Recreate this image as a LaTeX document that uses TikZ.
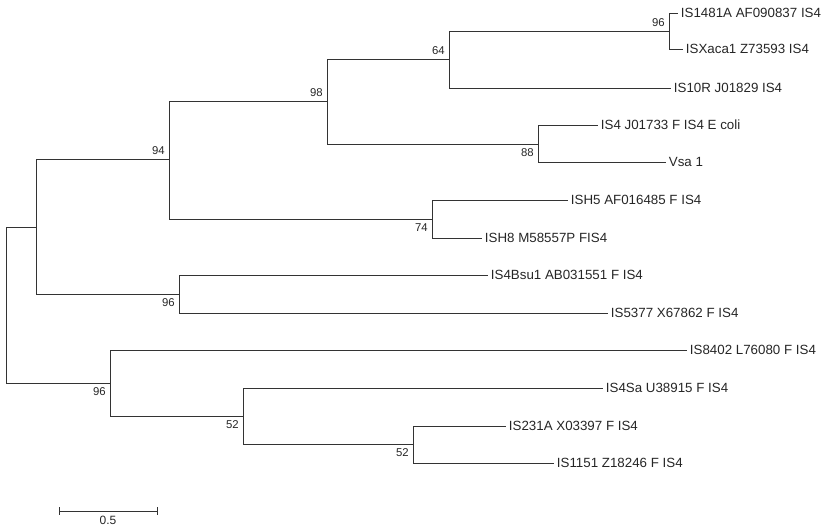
\documentclass[tikz,border=0pt]{standalone}
\usepackage{fontspec}
\setmainfont{Liberation Sans}
\begin{document}
\begin{tikzpicture}[x=0.75pt,y=-0.75pt,
  branch/.style={draw=black!80,line width=0.7pt},
  leaf/.style={anchor=west,inner sep=2pt,text=black!85,font=\fontsize{10}{12}\selectfont},
  bsa/.style={anchor=south east,inner sep=3pt,text=black!85,font=\fontsize{8.5}{10}\selectfont},
  bsb/.style={anchor=north east,inner sep=3pt,text=black!85,font=\fontsize{8.5}{10}\selectfont}]
\useasboundingbox (0,0) rectangle (829,532);
% internal nodes
\coordinate (r) at (6,305);
\coordinate (nA) at (36,227);
\coordinate (nB) at (110,383);
\coordinate (n94) at (169,159);
\coordinate (n96a) at (179,294);
\coordinate (n98) at (327,101);
\coordinate (n74) at (432,219);
\coordinate (n64) at (449,59);
\coordinate (n88) at (538,144);
\coordinate (n96t) at (669,31);
\coordinate (n52a) at (243,416);
\coordinate (n52b) at (413,444);
% leaves
\node[leaf] (l1) at (678,13) {IS1481A AF090837 IS4};
\node[leaf] (l2) at (683,49) {ISXaca1 Z73593 IS4};
\node[leaf] (l3) at (671,88) {IS10R J01829 IS4};
\node[leaf] (l4) at (598,125) {IS4 J01733 F IS4 E coli};
\node[leaf] (l5) at (666,162) {Vsa 1};
\node[leaf] (l6) at (568,200) {ISH5 AF016485 F IS4};
\node[leaf] (l7) at (482,238) {ISH8 M58557P FIS4};
\node[leaf] (l8) at (488,275) {IS4Bsu1 AB031551 F IS4};
\node[leaf] (l9) at (608,313) {IS5377 X67862 F IS4};
\node[leaf] (l10) at (687,350) {IS8402 L76080 F IS4};
\node[leaf] (l11) at (603,388) {IS4Sa U38915 F IS4};
\node[leaf] (l12) at (506,426) {IS231A X03397 F IS4};
\node[leaf] (l13) at (554,463) {IS1151 Z18246 F IS4};
% branches
\draw[branch] (r) |- (nA);
\draw[branch] (r) |- (nB);
\draw[branch] (nA) |- (n94);
\draw[branch] (nA) |- (n96a);
\draw[branch] (n94) |- (n98);
\draw[branch] (n94) |- (n74);
\draw[branch] (n98) |- (n64);
\draw[branch] (n98) |- (n88);
\draw[branch] (n64) |- (n96t);
\draw[branch] (n64) |- (l3.west);
\draw[branch] (n96t) |- (l1.west);
\draw[branch] (n96t) |- (l2.west);
\draw[branch] (n88) |- (l4.west);
\draw[branch] (n88) |- (l5.west);
\draw[branch] (n74) |- (l6.west);
\draw[branch] (n74) |- (l7.west);
\draw[branch] (n96a) |- (l8.west);
\draw[branch] (n96a) |- (l9.west);
\draw[branch] (nB) |- (l10.west);
\draw[branch] (nB) |- (n52a);
\draw[branch] (n52a) |- (l11.west);
\draw[branch] (n52a) |- (n52b);
\draw[branch] (n52b) |- (l12.west);
\draw[branch] (n52b) |- (l13.west);
% bootstrap values
\node[bsa] (b96t) at (n96t) {96};
\node[bsa] (b64) at (n64) {64};
\node[bsa] (b98) at (n98) {98};
\node[bsa] (b94) at (n94) {94};
\node[bsb] (b88) at (n88) {88};
\node[bsb] (b74) at (n74) {74};
\node[bsb] (b96a) at (n96a) {96};
\node[bsb] (b96b) at (nB) {96};
\node[bsb] (b52a) at (n52a) {52};
\node[bsb] (b52b) at (n52b) {52};
% scale bar
\coordinate (s1) at (59,511);
\coordinate (s2) at (157,511);
\draw[branch] (s1) -- (s2);
\draw[branch] ([yshift=3pt]s1) -- ([yshift=-3pt]s1);
\draw[branch] ([yshift=3pt]s2) -- ([yshift=-3pt]s2);
\node[text=black!85,font=\fontsize{9}{10}\selectfont,anchor=north,inner sep=1pt] (sl) at (108,515) {0.5};
\end{tikzpicture}
\end{document}
